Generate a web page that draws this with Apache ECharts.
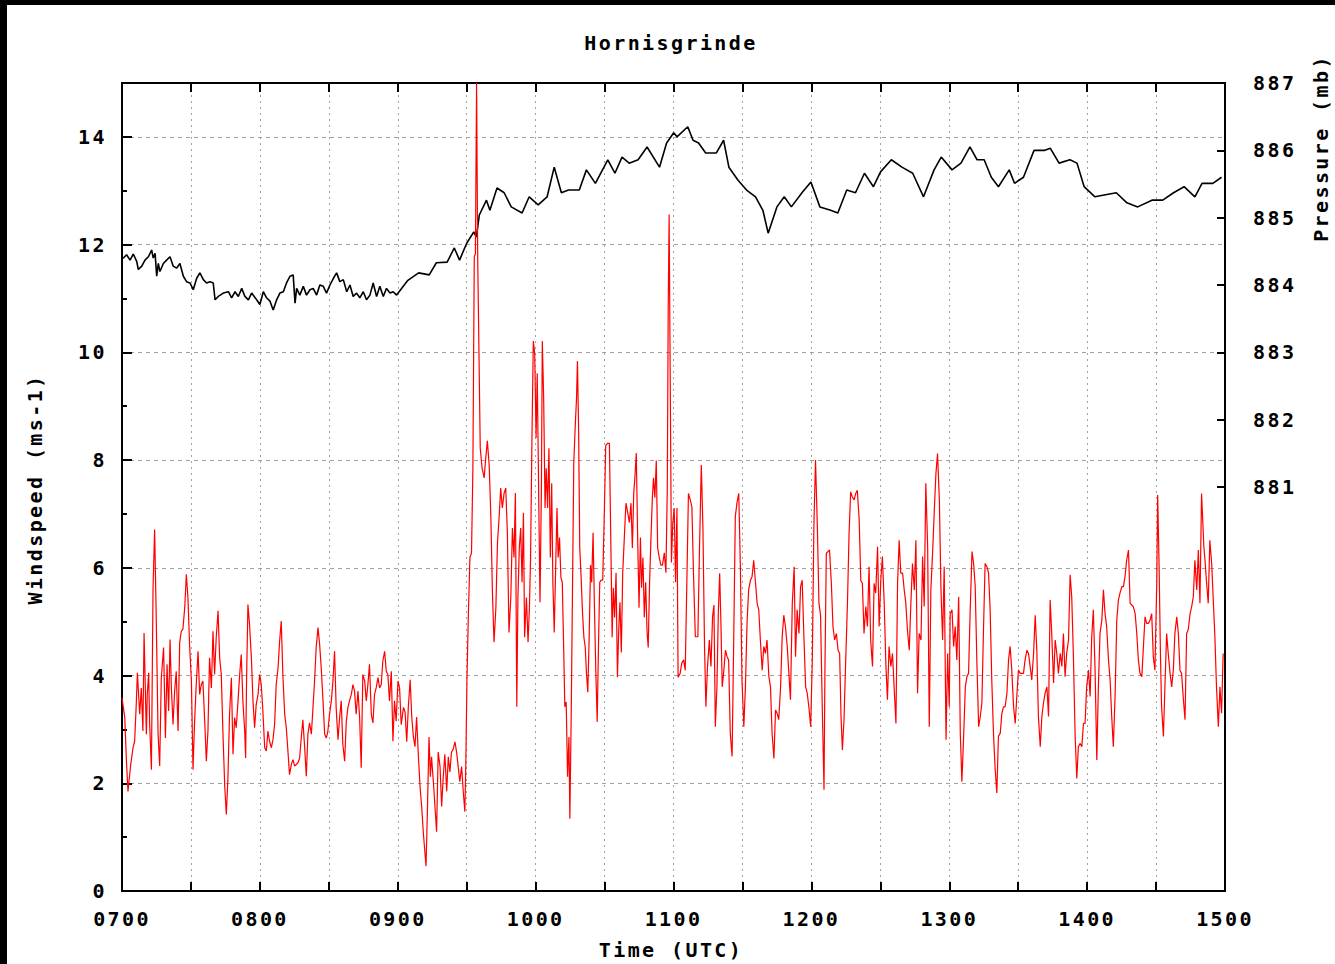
<!DOCTYPE html>
<html><head><meta charset="utf-8">
<script src="https://cdn.jsdelivr.net/npm/echarts@6/dist/echarts.min.js"></script>
<style>
html,body{margin:0;padding:0;background:#000;width:1335px;height:964px;overflow:hidden}
#c{position:absolute;left:7px;top:5px;width:1328px;height:959px;background:#fff}
#c svg text{letter-spacing:2.4px}
</style></head><body><div id="c"></div>
<script>
const titleText = 'Hornisgrinde';
const windName = 'Windspeed (ms-1)';
const pressName = 'Pressure (mb)';
const timeName = 'Time (UTC)';
const hourLabels = ['0700','0800','0900','1000','1100','1200','1300','1400','1500'];
const hourTicks = [0,60,120,180,240,300,360,420,480];
const windLabelTicks = [0,2,4,6,8,10,12,14];
const windMinorTicks = [1,3,5,7,9,11,13];
const pressTicks = [881,882,883,884,885,886,887];

// windspeed (ms-1): [minutes after 0700, value]
const windData = [[0,3.59],[1.2,3.22],[1.9,2.44],[2.6,1.85],[3.8,2.35],[4.8,2.66],[5.5,2.78],[6.2,3.46],[6.7,4.05],[7.7,3.28],[8.4,3.77],[9.1,2.97],[9.6,4.79],[10.6,2.91],[11.0,3.65],[11.6,4.05],[12.0,3.15],[12.8,2.25],[13.5,5.60],[14.2,6.71],[14.9,5.07],[15.7,2.91],[16.4,2.32],[17.1,3.96],[18.1,4.52],[18.9,2.84],[19.6,4.21],[20.3,3.34],[20.9,4.67],[21.5,3.77],[22.2,3.09],[22.9,3.71],[23.6,4.08],[24.4,2.97],[25.1,4.61],[25.8,4.82],[26.5,4.86],[27.3,5.26],[28.0,5.88],[28.7,5.44],[29.4,4.58],[30.2,3.90],[30.9,2.25],[31.6,3.15],[32.3,3.83],[33.1,4.45],[33.8,3.65],[34.5,3.83],[35.2,3.90],[36.0,3.15],[36.7,2.41],[37.4,2.97],[38.1,4.33],[38.9,3.77],[39.6,4.82],[40.3,4.02],[41.0,4.70],[41.8,5.20],[42.5,4.33],[43.2,4.02],[43.9,2.97],[44.7,1.95],[45.4,1.42],[46.1,2.10],[46.8,3.28],[47.6,3.96],[48.3,2.54],[49.0,3.22],[49.7,3.03],[50.5,3.53],[51.2,4.02],[51.9,4.39],[52.6,3.53],[53.4,2.97],[53.8,2.47],[54.2,3.90],[54.8,5.32],[55.5,4.95],[56.3,4.33],[57.0,3.53],[57.7,3.03],[58.4,3.46],[59.2,3.65],[59.9,4.02],[60.6,3.83],[61.3,3.34],[62.1,2.66],[62.8,2.60],[63.5,2.97],[64.2,2.78],[65.0,2.66],[65.7,2.81],[66.4,3.09],[67.1,3.83],[67.9,4.14],[68.6,4.64],[69.3,5.01],[70.0,4.02],[70.8,3.28],[71.5,3.03],[72.2,2.60],[72.9,2.16],[73.7,2.35],[74.4,2.44],[75.1,2.32],[76.6,2.38],[77.3,2.47],[78.0,2.84],[78.7,3.18],[79.5,2.66],[80.2,2.13],[80.9,2.91],[81.6,3.12],[82.4,2.91],[83.1,3.40],[83.8,3.90],[84.5,4.52],[85.3,4.89],[86.0,4.58],[86.7,4.14],[87.4,3.59],[88.2,2.91],[88.9,2.84],[89.6,2.97],[90.3,3.28],[91.1,3.53],[91.8,3.90],[92.5,4.45],[93.2,3.40],[94.0,2.81],[94.7,3.22],[95.4,3.53],[96.1,2.72],[96.9,2.41],[97.6,3.15],[98.3,3.40],[99.0,3.53],[99.8,3.65],[100.5,3.83],[101.2,3.71],[101.9,3.28],[102.7,3.71],[103.4,3.22],[104.1,2.29],[104.8,4.02],[105.6,3.90],[106.3,3.53],[107.0,3.83],[107.7,4.21],[108.5,3.28],[109.2,3.12],[109.9,3.65],[110.6,3.77],[111.4,3.96],[112.1,3.77],[112.8,3.83],[113.5,4.27],[114.3,4.45],[115.0,4.08],[115.7,4.02],[116.4,3.53],[117.2,4.08],[117.9,2.78],[118.6,3.53],[119.3,3.15],[120.1,3.90],[120.8,3.77],[121.5,3.09],
[122.5,3.41],[123.2,3.32],[123.9,2.77],[124.6,3.41],[125.4,3.92],[126.1,3.23],[126.8,2.86],[127.5,2.68],[128.2,3.23],[129.0,2.49],[129.7,1.94],[130.4,1.57],[131.1,1.10],[132.3,0.46],[132.9,1.47],[133.6,2.86],[134.2,2.12],[134.7,2.49],[135.5,2.03],[136.2,1.57],[136.9,1.10],[137.6,2.58],[138.4,2.31],[139.1,1.57],[139.8,2.12],[140.5,2.54],[141.3,1.85],[142.0,2.49],[142.7,2.21],[143.4,2.58],[144.1,2.63],[144.9,2.77],[145.6,2.58],[146.3,2.31],[147.0,2.03],[147.8,2.31],[148.5,1.85],[149.2,1.47],[149.6,2.31],[150.1,3.88],[150.7,5.08],[151.4,6.19],[152.1,6.28],[152.7,7.85],[153.3,11.78],[153.8,11.83],[154.3,15.0],[154.8,11.73],[155.9,8.22],[156.7,7.85],[157.6,7.67],[158.3,8.04],[159.0,8.36],[159.8,7.90],[160.5,6.97],[161.2,5.54],[161.9,4.62],[162.7,5.26],[163.4,6.47],[164.1,6.93],[164.8,7.48],[165.5,7.11],[166.3,7.39],[167.0,7.48],[167.7,6.65],[168.4,4.80],[169.2,5.45],[169.9,6.74],[170.6,6.19],[171.2,7.39],[171.8,3.42],[172.3,5.45],[172.9,6.37],[173.5,6.74],[174.1,5.73],[174.7,7.02],[175.2,4.71],[176.0,5.45],[176.7,4.62],[177.3,5.26],[177.8,6.19],[178.4,8.41],[179.0,10.21],[179.6,9.98],[180.2,8.41],[180.7,9.61],[181.3,7.48],[181.9,5.36],[182.5,7.39],[182.9,10.21],[183.5,9.15],[184.1,7.11],[184.6,7.85],[185.2,7.11],[185.8,8.22],[186.4,6.19],[187.0,7.57],[187.5,5.73],[188.1,4.80],[188.7,5.97],[189.3,7.11],[189.8,6.19],[190.4,6.56],[191.0,5.82],[191.6,5.73],[192.2,4.52],[192.7,3.42],[193.3,3.51],[193.9,2.12],[194.5,2.86],[194.9,1.34],[195.5,3.32],[196.1,5.82],[196.6,7.94],[197.2,8.59],[197.8,9.15],[198.2,9.84],[198.7,8.59],[199.2,6.37],[199.8,5.82],[200.4,5.17],[201.0,4.71],[201.6,4.52],[202.1,4.06],[202.7,3.69],[203.3,4.71],[203.9,6.05],[204.4,5.73],[205.0,6.65],[205.6,5.26],[206.2,4.06],[206.8,3.14],[207.3,4.43],[207.9,5.73],[208.5,5.77],[209.2,5.77],[209.9,7.02],[210.5,8.27],[211.3,8.31],[212.1,8.31],[212.7,6.56],[213.3,4.71],[213.8,5.63],[214.4,5.08],[215.0,5.91],[215.6,3.97],[216.2,4.89],[216.7,5.36],[217.3,4.43],[217.9,5.91],[218.6,6.56],[219.3,7.20],[220.1,7.02],[220.8,6.84],[221.5,7.20],[222.1,6.37],[222.7,7.39],[223.2,7.67],[223.8,8.13],[224.4,6.56],[225.0,5.26],[225.6,6.56],[226.1,5.63],[226.7,6.19],[227.3,5.08],[227.9,5.73],[228.5,4.80],[229.0,4.52],[229.6,5.73],[230.2,6.56],[230.8,7.30],[231.3,7.67],[231.9,7.30],[232.5,7.99],[233.1,6.37],[233.8,6.19],[234.5,6.05],[235.2,6.05],[236.0,6.28],[236.7,5.91],[237.3,7.48],[237.7,10.81],[238.1,12.56],[238.6,9.33],[239.1,6.10],[239.7,6.84],[240.3,7.11],[240.9,5.73],[241.5,7.11],[242.0,3.97],
[242.9,4.04],[243.6,4.23],[244.4,4.29],[245.1,4.10],[245.8,5.71],[246.5,7.38],[247.3,7.26],[248.0,7.13],[248.7,5.90],[249.5,4.72],[250.6,4.72],[251.3,6.33],[252.1,7.91],[252.8,6.76],[253.5,4.54],[254.1,3.42],[254.8,4.17],[255.6,4.66],[256.3,4.17],[257.0,5.09],[257.6,5.31],[258.2,3.05],[258.9,3.79],[259.5,5.15],[260.1,5.90],[260.7,4.85],[261.2,3.79],[261.8,4.04],[262.6,4.47],[263.3,4.35],[264.0,4.29],[264.7,2.93],[265.5,2.50],[266.2,4.66],[266.9,6.95],[267.6,7.20],[268.4,7.38],[269.1,6.02],[269.8,3.92],[270.6,3.05],[271.3,3.79],[272.0,4.97],[272.7,5.59],[273.5,5.77],[274.2,5.84],[274.9,6.14],[275.6,5.77],[276.4,5.34],[277.1,5.22],[277.8,4.66],[278.6,4.10],[279.3,4.54],[280.0,4.41],[280.7,4.66],[281.5,3.98],[282.2,3.79],[282.9,2.93],[283.7,2.46],[284.4,3.36],[285.1,3.30],[285.8,3.18],[286.6,3.79],[287.3,4.72],[288.0,5.12],[288.7,4.91],[289.5,4.54],[290.2,4.04],[290.9,3.55],[291.7,5.34],[292.5,6.02],[293.1,4.35],[293.8,5.22],[294.6,4.78],[295.3,5.65],[296.0,5.77],[296.7,4.78],[297.5,3.79],[298.2,3.67],[298.9,3.42],[299.7,3.05],[300.4,4.29],[301.1,6.79],[301.8,8.0],[302.6,6.76],[303.3,5.34],[304.0,5.12],[304.7,3.49],[305.5,1.88],[305.9,4.10],[306.5,6.27],[307.2,6.30],[307.9,6.33],[308.7,5.71],[309.4,4.91],[310.1,4.66],[310.9,4.78],[311.6,4.47],[312.3,4.41],[312.9,3.24],[313.5,2.62],[314.2,3.18],[314.9,4.23],[315.7,5.34],[316.4,6.64],[317.1,7.41],[317.8,7.32],[318.6,7.26],[319.3,7.38],[320.0,7.44],[320.8,6.89],[321.5,5.77],[322.2,5.71],[322.9,4.78],[323.7,5.28],[324.4,4.91],[325.1,6.02],[325.8,4.66],[326.6,4.17],[327.3,5.71],[328.0,5.53],[328.8,6.39],[329.5,4.91],[330.2,5.77],[330.9,6.21],[331.7,5.34],[332.4,4.23],[333.1,3.55],[333.8,4.54],[334.6,4.17],[335.3,4.41],[336.0,3.79],[336.8,3.11],[337.5,5.71],[338.2,6.51],[338.9,5.90],[339.7,5.90],[340.4,5.59],[341.1,5.34],[341.8,4.85],[342.6,4.47],[343.3,5.34],[344.0,6.08],[344.8,5.59],[345.5,6.51],[346.2,3.67],[346.9,4.78],[347.7,4.66],[348.4,6.21],[349.1,5.28],[349.8,7.57],[350.6,6.39],[351.3,3.05],[352.0,5.59],[352.8,6.33],[353.5,7.07],[354.2,7.75],[354.9,8.12],[355.7,7.26],[356.4,5.59],[357.1,4.66],[357.8,6.02],[358.6,2.81],[359.3,4.41],[360.0,3.42],
[360.4,5.15],[361.2,5.22],[361.9,4.54],[362.6,4.91],[363.3,4.29],[364.1,5.46],[364.8,2.93],[365.5,2.03],[366.2,2.80],[367.0,3.79],[367.7,3.98],[368.4,4.04],[369.1,5.19],[369.9,6.30],[370.6,6.08],[371.3,5.65],[372.0,4.29],[372.8,3.05],[373.5,3.24],[374.2,3.49],[374.9,4.85],[375.6,6.08],[376.4,6.02],[377.1,5.90],[377.8,5.22],[378.5,3.92],[379.3,2.87],[380.0,2.25],[380.7,1.82],[381.4,2.87],[382.2,2.93],[382.9,3.30],[383.6,3.42],[384.3,3.42],[385.1,3.67],[385.8,4.29],[386.5,4.54],[387.2,4.10],[388.0,3.42],[388.7,3.11],[389.4,3.61],[390.1,4.10],[390.9,4.04],[391.6,4.04],[392.3,4.04],[393.0,4.29],[393.8,4.47],[394.5,4.41],[395.2,4.17],[395.9,3.92],[396.7,4.41],[397.4,5.12],[398.1,4.47],[398.8,3.24],[399.6,2.68],[400.3,3.24],[401.0,3.49],[401.7,3.67],[402.5,3.79],[403.2,3.24],[403.9,5.40],[404.6,4.78],[405.4,3.86],[406.1,4.66],[406.8,4.41],[407.5,4.04],[408.3,4.41],[409.0,4.17],[409.7,4.78],[410.4,3.98],[411.1,4.41],[411.9,4.66],[412.6,5.87],[413.3,5.46],[414.0,4.41],[414.8,2.87],[415.5,2.09],[416.2,2.68],[416.9,2.74],[417.7,2.68],[418.4,3.11],[419.1,3.11],[419.8,3.79],[420.6,4.10],[421.3,3.61],[422.0,4.72],[422.7,5.22],[423.5,4.04],[424.2,2.43],[424.9,3.79],[425.6,4.78],[426.4,5.03],[427.1,5.59],[427.8,5.15],[428.5,4.91],[429.3,4.29],[430.0,3.92],[430.7,3.24],[431.4,2.68],[432.2,3.67],[432.9,5.03],[433.6,5.40],[434.3,5.53],[435.1,5.65],[435.8,5.65],[436.5,5.84],[437.2,6.14],[438.0,6.33],[438.7,5.34],[439.4,5.31],[440.1,5.28],[440.9,5.15],[441.6,4.78],[442.3,4.29],[443.0,4.04],[443.8,3.98],[444.5,4.54],[445.2,5.09],[445.9,4.97],[446.7,4.97],[447.4,5.03],[448.1,5.15],[448.8,4.35],[449.5,4.10],[450.3,5.71],[450.7,7.35],[451.3,6.08],[451.9,4.41],[452.4,3.42],[453.2,2.87],[453.9,3.86],[454.6,4.78],[455.3,4.41],[456.1,4.04],[456.8,3.79],[457.5,4.10],[458.2,4.78],[459.0,5.09],[459.7,4.78],[460.4,4.10],[461.1,4.04],[461.9,3.55],[462.6,3.18],[463.3,4.78],[464.0,4.85],[464.8,5.15],[465.5,5.28],[466.2,5.46],[466.9,6.14],[467.7,5.59],[468.4,6.33],[469.1,5.34],[469.8,7.38],[470.3,6.89],[470.8,6.39],[471.3,6.14],[472.0,5.71],[472.7,5.34],[473.4,6.51],[474.2,6.08],[474.9,5.40],[475.6,4.72],[476.3,3.79],[477.1,3.05],[477.8,3.79],[478.5,3.30],[479.2,4.41]];

// pressure (mb): [minutes after 0700, value]
const pressData = [[0,884.40],[0.6,884.40],[2.0,884.45],[3.5,884.37],[4.9,884.46],[6.4,884.35],[7.1,884.23],[8.6,884.28],[10.0,884.37],[11.5,884.42],[12.9,884.52],[13.6,884.40],[14.4,884.47],[15.1,884.13],[15.8,884.32],[16.5,884.20],[18.0,884.32],[19.4,884.37],[20.9,884.42],[22.3,884.28],[23.8,884.25],[25.2,884.32],[26.7,884.13],[28.1,884.05],[29.6,884.03],[31.0,883.93],[32.5,884.10],[33.9,884.18],[35.4,884.08],[36.8,884.03],[38.3,884.05],[39.7,884.03],[40.5,883.78],[41.9,883.83],[44.1,883.88],[46.3,883.90],[47.7,883.81],[49.2,883.90],[50.6,883.83],[52.1,883.95],[53.5,883.83],[55.0,883.78],[56.4,883.88],[58.6,883.78],[60.0,883.71],[61.5,883.90],[62.9,883.81],[64.4,883.76],[65.8,883.63],[67.3,883.78],[68.7,883.88],[70.2,883.90],[71.6,884.03],[73.1,884.13],[74.5,884.15],[75.3,883.73],[76.0,883.95],[77.4,883.85],[78.9,883.98],[80.3,883.85],[81.8,883.93],[83.2,883.95],[84.7,883.85],[86.1,884.00],[87.6,883.98],[89.0,883.88],[90.5,884.00],[92.0,884.10],[93.4,884.18],[94.8,884.05],[96.3,884.08],[97.8,883.90],[99.2,884.00],[100.6,883.83],[102.1,883.88],[103.5,883.81],[105.0,883.90],[106.4,883.78],[107.9,883.85],[109.3,884.03],[110.8,883.83],[112.2,883.98],[113.7,883.83],[115.1,883.95],[116.6,883.88],[118.0,883.90],[119.5,883.85],[124.4,884.07],[129.1,884.18],[133.7,884.15],[136.8,884.33],[141.5,884.34],[144.6,884.55],[146.9,884.37],[150.0,884.62],[153.1,884.79],[154.2,884.71],[155.5,885.04],[158.6,885.26],[160.1,885.11],[163.2,885.44],[166.3,885.37],[169.4,885.16],[174.1,885.07],[177.2,885.31],[181.1,885.19],[185.0,885.31],[188.1,885.75],[191.2,885.37],[194.3,885.41],[199.0,885.41],[202.1,885.71],[206.0,885.51],[211.4,885.86],[214.5,885.66],[217.6,885.90],[220.7,885.81],[224.6,885.86],[228.5,886.05],[233.9,885.75],[237.0,886.11],[240.1,886.26],[241.5,886.20],[246.2,886.35],[248.5,886.15],[250.9,886.11],[254.0,885.96],[258.6,885.96],[261.8,886.15],[264.1,885.75],[268.0,885.56],[271.8,885.41],[275.7,885.31],[278.9,885.11],[281.2,884.77],[285.0,885.16],[288.2,885.31],[291.3,885.16],[295.9,885.37],[299.8,885.53],[303.7,885.16],[308.4,885.11],[311.5,885.07],[315.4,885.41],[319.2,885.37],[323.1,885.66],[327.0,885.46],[330.1,885.68],[334.8,885.86],[339.4,885.75],[344.1,885.66],[348.8,885.31],[353.4,885.71],[356.5,885.90],[361.2,885.71],[365.1,885.81],[369.0,886.05],[372.1,885.86],[375.2,885.86],[378.3,885.60],[381.4,885.46],[386.1,885.71],[388.4,885.51],[392.3,885.60],[396.9,886.00],[401.6,886.00],[404.0,886.03],[407.8,885.81],[412.5,885.86],[415.6,885.81],[418.7,885.46],[423.4,885.31],[428.0,885.34],[432.7,885.37],[437.3,885.22],[442.0,885.16],[448.2,885.26],[452.9,885.26],[457.6,885.37],[462.2,885.46],[466.9,885.31],[470.0,885.51],[474.7,885.51],[478.5,885.60]];

const FONT = 'DejaVu Sans Mono';
const txt = {color:'#000', fontFamily:FONT, fontWeight:'bold', fontSize:20};
const black = {color:'#000', width:2};
const nameFont = 'bold 20px "DejaVu Sans Mono"';
const chart = echarts.init(document.getElementById('c'), null, {renderer:'svg'});
chart.setOption({
  animation:false,
  backgroundColor:'#fff',
  grid:{left:115, right:110, top:78, bottom:73, show:true, borderColor:'#000', borderWidth:2, backgroundColor:'#fff', containLabel:false},
  xAxis:[{
    type:'value', min:0, max:480, interval:30, position:'bottom',
    axisLine:{show:true, onZero:false, lineStyle:black},
    axisTick:{show:true, inside:true, length:9, lineStyle:black},
    axisLabel:{show:true, customValues:hourTicks, formatter:(v)=>hourLabels[Math.round(v/60)], margin:18, ...txt},
    splitLine:{show:true, lineStyle:{color:'#a0a0a0', width:1, type:[2,4]}}
  },{
    type:'value', min:0, max:480, interval:30, position:'top',
    axisLine:{show:true, onZero:false, lineStyle:black},
    axisTick:{show:true, inside:true, length:9, lineStyle:black},
    axisLabel:{show:false}, splitLine:{show:false}
  }],
  yAxis:[{
    type:'value', min:0, max:15, interval:2, position:'left',
    axisLine:{show:true, onZero:false, lineStyle:black},
    axisTick:{show:true, inside:true, length:10, customValues:windLabelTicks, lineStyle:black},
    axisLabel:{show:true, customValues:windLabelTicks, margin:15, ...txt},
    splitLine:{show:true, lineStyle:{color:'#a0a0a0', width:1, type:[4,4]}}
  },{
    type:'value', min:0, max:15, interval:1, position:'left',
    axisLine:{show:false},
    axisTick:{show:true, inside:true, length:5, customValues:windMinorTicks, lineStyle:black},
    axisLabel:{show:false}, splitLine:{show:false}
  },{
    type:'value', min:875, max:887, interval:1, position:'right',
    axisLine:{show:true, onZero:false, lineStyle:black},
    axisTick:{show:true, inside:true, length:8, customValues:pressTicks, lineStyle:black},
    axisLabel:{show:true, customValues:pressTicks, margin:28, ...txt},
    splitLine:{show:false}
  }],
  graphic:[
    {type:'text', x:664, y:38, style:{text:titleText, fill:'#000', font:nameFont, align:'center', verticalAlign:'middle'}},
    {type:'text', x:28, y:484, rotation:Math.PI/2, style:{text:windName, fill:'#000', font:nameFont, align:'center', verticalAlign:'middle'}},
    {type:'text', x:1314, y:143, rotation:Math.PI/2, style:{text:pressName, fill:'#000', font:nameFont, align:'center', verticalAlign:'middle'}},
    {type:'text', x:664, y:945, style:{text:timeName, fill:'#000', font:nameFont, align:'center', verticalAlign:'middle'}}
  ],
  series:[{
    name:'Pressure', type:'line', xAxisIndex:0, yAxisIndex:2, data:pressData,
    showSymbol:false, symbol:'none', z:2,
    lineStyle:{color:'#000', width:1.6}
  },{
    name:'Windspeed', type:'line', xAxisIndex:0, yAxisIndex:0, data:windData,
    showSymbol:false, symbol:'none', z:3, clip:true,
    lineStyle:{color:'#ff0000', width:1.2}
  }]
});
</script></body></html>
